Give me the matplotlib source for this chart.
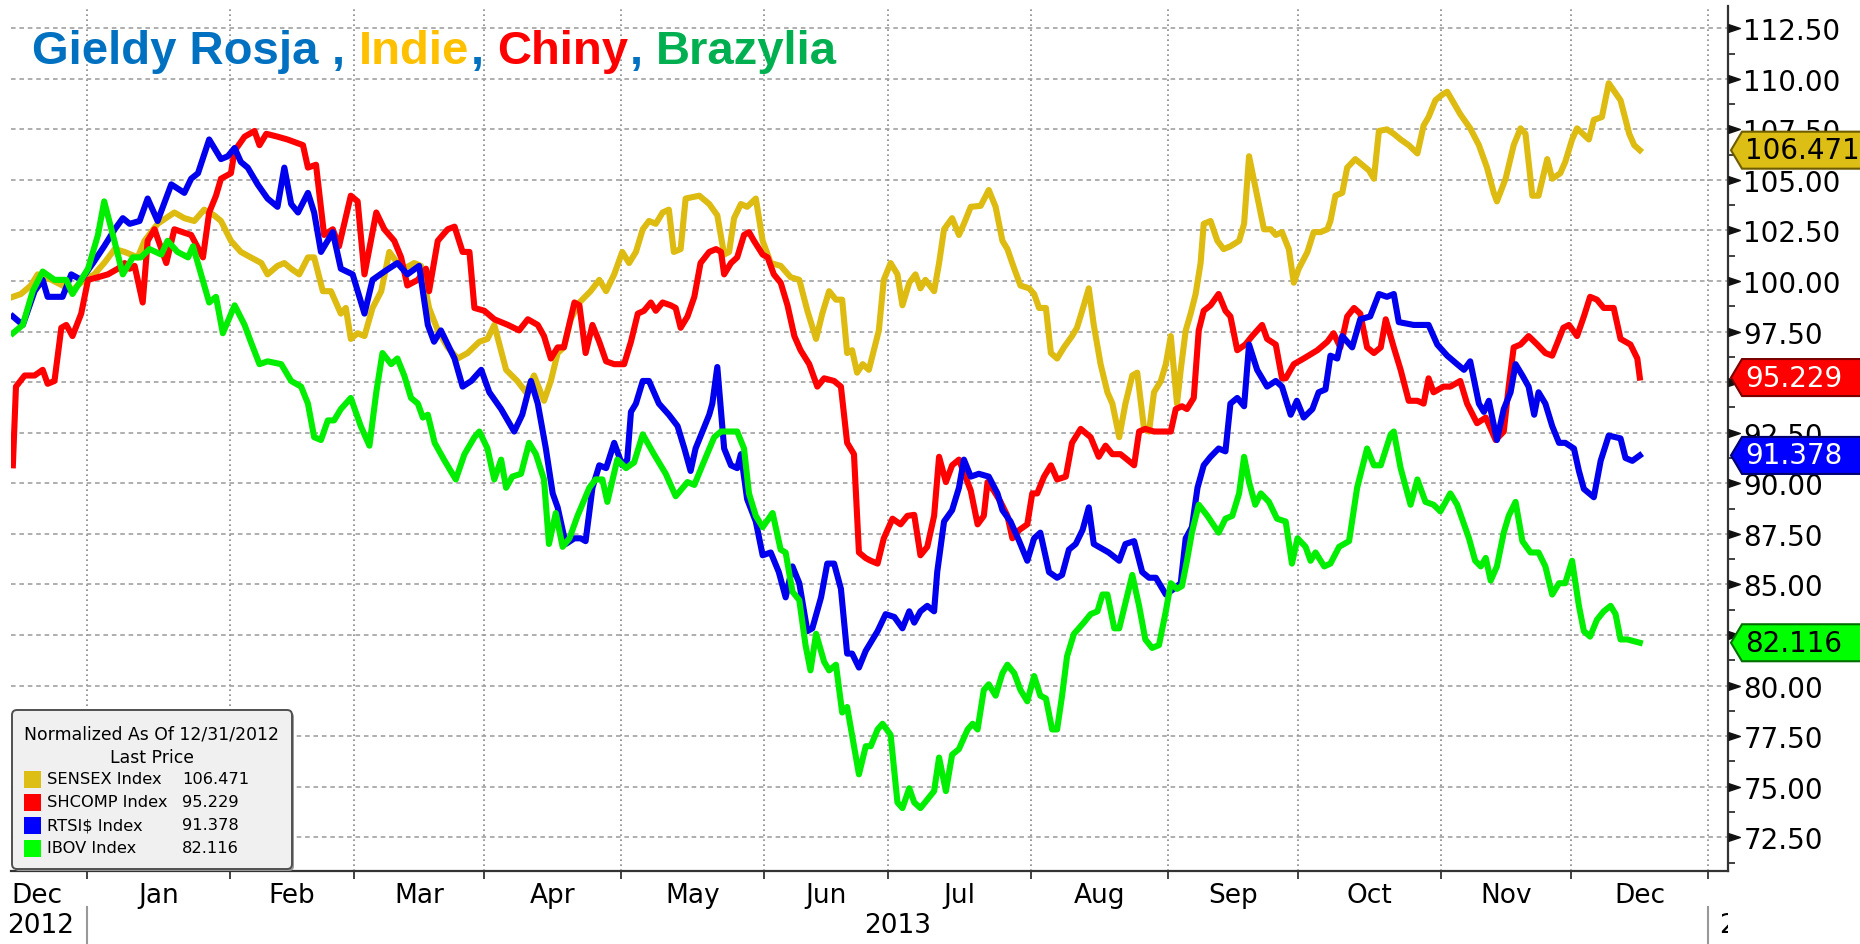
import numpy as np
import matplotlib
matplotlib.use('Agg')
import matplotlib.pyplot as plt
from matplotlib.patches import Polygon, FancyBboxPatch, Rectangle
from matplotlib.transforms import IdentityTransform, Bbox, TransformedBbox, blended_transform_factory
from matplotlib.ticker import MultipleLocator

# x = trading day counted from the first session of 2013 (weekends removed, like the terminal chart)
sensex_t = [-11.9, -10.6, -9.0, -7.9, -5.7, -3.9, -2.5, -0.4, 1.2, 2.8, 4.5, 6.1, 8.2, 9.3, 11.4, 14.1, 15.7, 17.3,
            18.9, 20.5, 21.6, 23.2, 24.8, 26.4, 28.1, 29.1, 30.7, 31.8, 32.9, 34.2, 35.6, 36.6, 38.0, 39.3, 40.9,
            41.7, 42.5, 43.6, 44.7, 46.0, 47.4, 48.7, 50.0, 51.1, 52.7, 53.8, 55.1, 56.5, 58.1, 59.7, 61.3, 63.2,
            64.5, 65.6, 67.5, 69.3, 70.7, 72.0, 73.6, 74.7, 75.8, 76.8, 77.9, 79.3, 81.1, 82.5, 83.6, 84.9, 86.2,
            87.3, 88.4, 89.5, 90.5, 91.6, 92.7, 93.7, 94.5, 95.6, 96.4, 98.6, 100.2, 101.5, 102.6, 103.4, 104.2,
            105.3, 106.3, 107.7, 108.8, 110.1, 111.7, 113.3, 114.7, 116.0, 117.4, 118.4, 119.5, 120.6, 121.6,
            122.4, 123.2, 124.0, 124.9, 125.9, 127.5, 128.3, 129.4, 130.5, 131.3, 132.4, 133.4, 134.2, 135.0,
            136.4, 137.2, 138.0, 139.3, 140.4, 141.2, 142.3, 143.9, 145.2, 146.3, 147.4, 148.2, 149.3, 150.3,
            151.7, 152.5, 153.3, 154.4, 155.2, 156.2, 157.3, 158.6, 159.4, 160.5, 161.3, 162.1, 163.2, 164.3,
            165.1, 166.2, 167.2, 168.3, 169.1, 170.2, 171.0, 171.8, 172.9, 173.7, 174.5, 175.5, 176.1, 176.9,
            177.7, 178.5, 179.3, 179.8, 180.9, 182.0, 183.0, 184.1, 185.5, 186.3, 187.1, 188.4, 189.5, 190.6,
            191.4, 192.4, 193.5, 194.3, 195.1, 196.5, 197.5, 198.6, 199.7, 200.2, 201.0, 202.1, 202.9, 204.2,
            205.3, 206.4, 207.2, 208.0, 209.3, 210.4, 211.5, 212.8, 214.2, 215.2, 216.0, 217.1, 218.2, 219.0,
            221.1, 222.7, 224.1, 225.4, 226.5, 227.0, 228.4, 229.7, 230.8, 231.6, 232.7, 233.7, 235.1, 235.9,
            237.2, 238.0, 239.1, 239.9, 241.8, 242.6, 243.9, 245.0, 246.9, 248.3, 249.1, 250.0]
sensex_v = [99.22, 99.36, 99.78, 100.33, 100.06, 99.78, 99.5, 100.06, 100.33, 100.89, 101.58, 101.44, 101.17, 101.99,
            102.83, 103.39, 103.11, 102.97, 103.53, 103.25, 102.97, 101.99, 101.44, 101.17, 100.89, 100.33, 100.75,
            100.89, 100.61, 100.33, 101.17, 101.17, 99.5, 99.5, 98.39, 98.67, 97.14, 97.42, 97.28, 98.67, 99.5,
            101.44, 100.89, 100.61, 100.89, 100.75, 98.67, 97.56, 96.72, 96.17, 96.44, 97.0, 97.14, 97.83, 95.61,
            95.06, 94.5, 95.33, 94.08, 95.06, 96.44, 96.72, 98.11, 98.94, 99.5, 100.06, 99.5, 100.33, 101.44,
            100.89, 101.44, 102.56, 102.97, 102.83, 103.39, 103.53, 101.44, 101.58, 104.08, 104.22, 103.81, 103.25,
            101.31, 101.44, 103.11, 103.81, 103.67, 104.08, 101.99, 100.89, 100.75, 100.19, 100.06, 98.53, 97.14,
            98.39, 99.5, 99.08, 99.08, 96.44, 96.58, 95.47, 95.89, 95.61, 97.55, 100.06, 100.89, 100.33, 98.8,
            99.92, 100.33, 99.64, 100.06, 99.5, 100.89, 102.56, 103.11, 102.28, 102.83, 103.67, 103.72, 104.5,
            103.67, 101.99, 101.58, 100.61, 99.78, 99.64, 99.36, 98.67, 98.67, 96.44, 96.17, 96.72, 97.28, 97.69,
            98.8, 99.64, 97.83, 95.89, 94.5, 93.94, 92.28, 93.94, 95.33, 95.47, 92.69, 92.56, 94.5, 95.06, 95.89,
            97.28, 93.94, 95.61, 97.55, 98.39, 99.36, 100.89, 102.83, 102.97, 101.99, 101.58, 101.72, 101.99,
            102.83, 106.17, 104.22, 102.56, 102.56, 102.28, 102.42, 101.58, 99.92, 100.61, 101.44, 102.42, 102.42,
            102.56, 102.97, 104.22, 104.36, 105.61, 106.03, 105.75, 105.47, 105.06, 107.42, 107.5, 107.28, 107.0,
            106.72, 106.31, 107.69, 108.11, 108.94, 109.22, 109.36, 108.25, 107.55, 106.72, 105.61, 104.36, 103.94,
            105.06, 106.72, 107.55, 107.28, 104.22, 104.22, 106.03, 105.06, 105.33, 105.89, 107.0, 107.55, 107.0,
            107.97, 108.11, 109.78, 108.94, 107.28, 106.72, 106.471]

shcomp_t = [-11.9, -11.4, -10.0, -8.4, -7.1, -6.3, -5.2, -4.1, -3.3, -2.3, -0.9, 0.2, 1.8, 3.4, 5.0, 6.1, 6.9, 7.7,
            9.0, 9.8, 10.9, 12.8, 14.1, 15.4, 16.8, 18.7, 19.7, 20.8, 21.6, 23.2, 23.8, 25.4, 27.0, 27.8, 28.9,
            30.7, 32.3, 34.8, 35.6, 36.9, 38.2, 39.6, 40.6, 42.5, 43.6, 44.7, 46.6, 47.9, 49.5, 50.6, 51.6, 53.3,
            54.6, 55.1, 56.5, 58.1, 59.2, 60.5, 61.6, 62.4, 64.0, 65.6, 67.8, 69.6, 71.0, 72.6, 73.6, 74.7, 75.8,
            76.8, 78.5, 79.3, 80.3, 81.4, 82.5, 83.6, 84.9, 86.5, 87.6, 88.7, 89.7, 90.8, 91.6, 92.7, 94.0, 94.8,
            95.6, 96.7, 97.8, 98.8, 100.2, 101.3, 102.1, 102.6, 103.7, 104.7, 105.8, 106.6, 107.4, 108.8, 109.6,
            110.6, 111.7, 112.8, 113.9, 114.9, 116.3, 117.6, 118.7, 120.3, 121.4, 122.4, 123.5, 124.3, 125.4,
            126.2, 127.3, 128.3, 129.7, 131.0, 132.1, 133.2, 134.2, 135.3, 136.4, 137.2, 138.3, 139.3, 140.4,
            142.3, 143.4, 144.4, 145.0, 146.0, 147.1, 148.2, 149.0, 150.1, 151.4, 152.2, 153.0, 154.1, 155.2,
            156.2, 157.6, 158.6, 160.0, 161.6, 162.9, 164.0, 165.1, 166.4, 167.5, 168.6, 169.4, 170.4, 171.8,
            172.9, 174.5, 175.3, 176.3, 177.1, 178.2, 179.0, 179.8, 180.9, 182.2, 183.3, 184.1, 185.2, 186.5,
            187.6, 189.2, 190.0, 191.4, 192.4, 193.0, 194.3, 195.9, 198.1, 199.7, 200.7, 201.8, 202.9, 204.0,
            205.0, 206.1, 207.2, 208.3, 209.1, 210.4, 211.5, 212.8, 214.2, 215.2, 216.0, 216.8, 218.4, 219.5,
            221.1, 222.2, 223.8, 225.2, 226.8, 228.1, 228.9, 229.7, 230.8, 232.1, 233.5, 234.8, 235.9, 237.7,
            238.6, 239.9, 241.0, 242.0, 243.1, 244.2, 245.8, 246.9, 248.5, 249.6, 250.0]
shcomp_v = [90.89, 94.78, 95.33, 95.33, 95.61, 94.92, 95.06, 97.69, 97.83, 97.28, 98.39, 100.06, 100.19, 100.33,
            100.61, 100.89, 100.61, 100.75, 98.94, 101.99, 102.56, 100.89, 102.56, 102.42, 102.28, 101.17, 103.39,
            104.22, 105.06, 105.33, 106.44, 107.14, 107.42, 106.72, 107.28, 107.14, 107.0, 106.72, 105.61, 105.75,
            102.28, 102.56, 101.72, 104.22, 103.94, 100.33, 103.39, 102.56, 101.99, 101.17, 99.78, 100.06, 100.61,
            99.5, 101.99, 102.56, 102.69, 101.44, 101.44, 98.67, 98.53, 98.11, 97.83, 97.56, 98.11, 97.83, 97.28,
            96.17, 96.72, 96.72, 98.94, 98.8, 96.44, 97.83, 97.0, 96.03, 95.89, 95.89, 97.0, 98.39, 98.53, 98.94,
            98.53, 98.94, 98.8, 98.67, 97.69, 98.25, 99.22, 100.89, 101.44, 101.58, 101.44, 100.33, 100.89, 101.17,
            102.28, 102.42, 101.99, 101.31, 101.17, 100.33, 99.92, 98.8, 97.28, 96.58, 95.89, 94.78, 95.19, 95.06,
            94.78, 92.0, 91.44, 86.58, 86.3, 86.17, 86.03, 87.28, 88.25, 87.97, 88.39, 88.44, 86.44, 86.86, 88.39,
            91.31, 90.06, 90.89, 91.17, 89.64, 87.97, 88.39, 90.06, 89.64, 89.08, 88.39, 87.28, 87.69, 87.97, 89.5,
            89.5, 90.33, 90.89, 90.19, 90.33, 92.0, 92.69, 92.28, 91.31, 91.86, 91.44, 91.44, 91.17, 90.89, 92.56,
            92.69, 92.56, 92.56, 92.56, 93.67, 93.81, 93.67, 94.22, 97.56, 98.53, 98.8, 99.36, 98.53, 98.25, 96.58,
            96.86, 97.28, 97.83, 97.14, 96.86, 95.19, 95.19, 95.89, 96.17, 96.58, 97.0, 97.42, 96.72, 98.25, 98.67,
            98.39, 96.72, 96.44, 96.72, 98.11, 96.72, 95.61, 94.08, 94.08, 93.94, 95.19, 94.5, 94.78, 94.78, 95.06,
            93.94, 92.97, 93.25, 92.14, 92.56, 94.78, 96.72, 96.86, 97.28, 96.86, 96.44, 96.31, 97.69, 97.83, 97.28,
            98.25, 99.22, 99.08, 98.67, 98.67, 97.14, 96.86, 96.17, 95.229]

rtsi_t = [-11.9, -10.3, -8.4, -7.1, -6.3, -3.9, -2.5, -0.9, 1.0, 2.8, 4.5, 5.8, 6.9, 8.5, 9.8, 11.4, 13.6, 15.7, 16.8,
          17.9, 19.7, 21.6, 22.7, 23.8, 24.8, 25.9, 27.5, 29.1, 30.7, 31.8, 32.9, 34.0, 35.6, 36.6, 37.7, 39.6, 40.9,
          42.8, 44.7, 46.0, 47.9, 50.0, 51.6, 53.5, 54.9, 55.9, 57.0, 59.2, 60.5, 61.9, 63.5, 64.8, 66.7, 68.8, 70.1,
          71.5, 72.6, 73.9, 75.0, 75.8, 77.1, 78.5, 79.5, 80.3, 81.4, 82.5, 83.6, 84.9, 86.2, 87.0, 87.6, 88.4, 89.5,
          90.5, 92.1, 93.7, 95.1, 96.2, 97.2, 98.0, 99.1, 100.2, 100.7, 101.5, 102.6, 103.7, 104.7, 105.3, 106.3,
          107.7, 108.8, 110.1, 111.4, 112.5, 113.6, 114.7, 116.0, 116.8, 118.2, 119.2, 120.3, 121.4, 122.4, 123.2,
          124.3, 125.4, 127.3, 128.6, 130.0, 131.3, 132.4, 133.2, 134.2, 135.3, 136.4, 136.9, 138.0, 139.3, 140.4,
          141.2, 142.3, 143.6, 145.2, 146.6, 147.4, 148.7, 150.1, 151.4, 152.5, 153.5, 154.9, 156.2, 157.0, 158.1,
          159.2, 160.3, 161.3, 162.1, 163.7, 164.5, 166.2, 167.2, 168.6, 169.9, 171.0, 172.1, 172.9, 173.7, 175.0,
          176.1, 176.9, 177.9, 178.8, 179.8, 180.9, 182.2, 183.3, 184.1, 185.2, 186.3, 187.1, 188.4, 190.0, 191.4,
          192.4, 193.8, 194.8, 195.9, 197.3, 198.3, 199.4, 200.2, 201.3, 202.1, 203.7, 205.0, 206.6, 208.0, 209.3,
          210.4, 211.2, 213.6, 216.0, 217.4, 219.0, 220.6, 221.7, 222.7, 224.1, 224.9, 225.7, 227.0, 228.1, 229.2,
          230.0, 231.1, 232.1, 233.0, 233.7, 234.8, 235.9, 237.0, 238.0, 239.4, 240.2, 241.0, 242.6, 243.7, 245.0,
          246.9, 247.7, 248.8, 250.0]
rtsi_v = [98.25, 97.83, 99.5, 100.06, 99.22, 99.22, 100.33, 100.06, 100.89, 101.72, 102.56, 103.11, 102.83, 102.97,
          104.08, 102.97, 104.78, 104.36, 105.06, 105.33, 107.0, 106.03, 106.17, 106.58, 105.89, 105.61, 104.78, 104.08,
          103.67, 105.61, 103.81, 103.39, 104.36, 103.39, 101.44, 102.42, 100.61, 100.33, 98.39, 100.06, 100.47, 100.89,
          100.33, 100.75, 97.83, 97.0, 97.56, 96.17, 94.78, 95.06, 95.61, 94.5, 93.67, 92.56, 93.39, 95.06, 93.94,
          91.72, 89.5, 88.81, 87.0, 87.28, 87.28, 87.14, 89.78, 90.89, 90.75, 92.0, 90.89, 91.17, 93.53, 93.94, 95.06,
          95.06, 93.94, 93.39, 92.83, 91.72, 90.61, 91.72, 92.56, 93.39, 93.94, 95.75, 91.72, 90.89, 90.75, 91.44,
          89.22, 88.11, 86.44, 86.58, 85.61, 84.36, 85.89, 85.06, 82.69, 82.83, 84.36, 86.03, 86.03, 84.78, 81.58,
          81.58, 80.89, 81.72, 82.69, 83.53, 83.39, 82.83, 83.67, 83.11, 83.67, 83.94, 83.67, 85.61, 88.11, 88.67,
          89.78, 91.17, 90.33, 90.47, 90.33, 89.5, 88.67, 88.11, 87.14, 86.17, 87.28, 87.56, 85.61, 85.33, 85.47,
          86.72, 87.0, 87.69, 88.81, 87.0, 86.72, 86.58, 86.17, 87.0, 87.14, 85.61, 85.33, 85.33, 84.92, 84.5, 84.78,
          85.06, 87.28, 87.83, 89.78, 90.89, 91.31, 91.72, 91.58, 93.94, 94.22, 93.81, 96.86, 95.61, 94.78, 95.06,
          94.78, 93.39, 94.08, 93.25, 93.67, 94.5, 94.64, 96.31, 96.17, 97.28, 96.72, 98.11, 98.25, 99.36, 99.22,
          99.36, 97.97, 97.83, 97.83, 96.86, 96.31, 95.89, 95.61, 96.03, 93.94, 93.53, 94.08, 92.14, 93.67, 94.5,
          95.89, 95.33, 94.78, 93.39, 94.5, 93.94, 92.83, 92.0, 92.0, 91.72, 90.61, 89.72, 89.31, 91.11, 92.36,
          92.22, 91.25, 91.11, 91.378]

ibov_t = [-11.9, -10.3, -8.7, -7.1, -5.2, -3.3, -2.3, 0.2, 1.8, 2.8, 4.2, 5.8, 7.4, 8.7, 10.1, 12.0, 13.0, 14.6, 16.3,
          17.1, 18.4, 19.7, 20.8, 21.9, 23.8, 25.4, 26.4, 27.8, 29.1, 31.3, 32.9, 34.5, 35.6, 36.6, 37.7, 38.8, 39.8,
          40.9, 42.5, 44.1, 45.5, 46.6, 47.6, 49.0, 50.0, 51.1, 52.2, 53.3, 54.1, 54.9, 56.0, 57.5, 59.4, 60.8, 62.4,
          63.2, 64.5, 65.6, 66.7, 67.5, 68.5, 69.9, 71.2, 72.3, 73.6, 74.4, 75.5, 76.6, 77.7, 79.0, 80.9, 81.9, 83.0,
          83.8, 85.4, 86.8, 88.1, 89.5, 91.3, 93.2, 94.8, 96.7, 97.8, 99.1, 101.0, 102.1, 104.7, 105.8, 106.6, 107.7,
          108.8, 110.4, 111.7, 112.5, 113.6, 114.7, 115.7, 116.5, 117.4, 118.7, 119.5, 120.6, 121.6, 122.4, 124.3,
          125.4, 126.2, 127.3, 128.1, 129.4, 130.5, 131.3, 132.4, 133.2, 134.2, 135.3, 136.4, 137.2, 138.3, 139.3,
          140.4, 141.8, 142.6, 143.4, 144.4, 145.2, 146.3, 147.4, 148.2, 149.3, 150.3, 151.4, 152.5, 153.5, 154.4,
          155.4, 156.2, 157.0, 157.8, 158.9, 160.5, 161.6, 162.7, 163.5, 164.3, 165.4, 166.2, 167.2, 168.3, 169.4,
          170.4, 171.5, 172.6, 173.7, 174.5, 175.5, 176.3, 177.1, 177.9, 179.0, 180.4, 182.2, 183.3, 184.4, 185.5,
          186.3, 187.1, 188.1, 189.0, 190.3, 191.6, 193.0, 194.0, 194.9, 196.2, 197.0, 197.8, 199.2, 200.2, 201.6,
          203.2, 204.5, 206.1, 207.2, 208.3, 209.9, 210.4, 211.5, 213.1, 214.2, 215.5, 216.8, 217.9, 219.5, 220.6,
          222.5, 223.5, 224.4, 225.2, 226.0, 227.0, 228.1, 228.9, 230.0, 231.1, 232.4, 233.7, 234.8, 235.9, 237.0,
          238.0, 239.1, 240.2, 241.0, 242.0, 243.1, 244.2, 245.3, 246.1, 246.9, 248.0, 250.0]
ibov_v = [97.42, 97.83, 99.5, 100.47, 100.06, 100.06, 99.36, 100.61, 102.28, 103.94, 102.28, 100.33, 101.17, 101.17,
          101.58, 101.31, 101.99, 101.44, 101.17, 101.72, 100.33, 98.94, 99.22, 97.42, 98.8, 97.83, 97.0, 95.89, 96.03,
          95.89, 95.06, 94.78, 93.94, 92.28, 92.14, 93.11, 93.11, 93.67, 94.22, 92.83, 91.86, 94.5, 96.44, 95.89,
          96.17, 95.33, 94.22, 93.94, 93.25, 93.39, 92.0, 91.17, 90.19, 91.44, 92.28, 92.56, 91.72, 90.19, 91.17,
          89.78, 90.33, 90.47, 92.0, 91.44, 90.19, 87.0, 88.53, 86.86, 87.28, 88.39, 89.78, 90.19, 90.19, 89.08,
          91.17, 90.75, 91.03, 92.42, 91.44, 90.47, 89.36, 90.06, 89.92, 90.89, 92.28, 92.56, 92.56, 91.72, 89.5,
          88.39, 87.83, 88.53, 86.72, 86.58, 84.64, 84.22, 82.0, 80.75, 82.56, 81.17, 80.75, 81.03, 78.67, 78.94,
          75.61, 77.0, 77.0, 77.83, 78.11, 77.56, 74.22, 73.94, 74.92, 74.22, 73.94, 74.36, 74.78, 76.44, 74.78,
          76.58, 76.86, 77.83, 78.11, 77.83, 79.78, 80.06, 79.5, 80.61, 81.03, 80.61, 79.78, 79.22, 80.47, 79.5,
          79.36, 77.83, 77.83, 79.5, 81.44, 82.55, 83.11, 83.53, 83.67, 84.5, 84.5, 82.83, 82.83, 84.08, 85.47,
          83.94, 82.28, 81.86, 82.0, 83.67, 85.06, 84.78, 84.92, 86.17, 87.56, 88.94, 88.39, 87.56, 88.25, 88.39,
          89.5, 91.31, 90.06, 88.94, 89.5, 89.08, 88.25, 88.11, 86.03, 87.28, 86.86, 86.17, 86.58, 85.89, 86.03,
          86.86, 87.14, 89.78, 91.72, 90.89, 90.89, 92.42, 92.56, 90.75, 88.94, 90.19, 89.08, 88.94, 88.61, 89.5,
          88.94, 87.28, 86.17, 85.89, 86.31, 85.19, 85.89, 87.56, 88.39, 89.08, 87.14, 86.58, 86.58, 85.89, 84.5,
          85.06, 85.06, 86.17, 83.94, 82.69, 82.42, 83.25, 83.67, 83.94, 83.53, 82.28, 82.28, 82.116]

series_names = ['SENSEX Index', 'SHCOMP Index', 'RTSI$ Index', 'IBOV Index']
line_colors = ['#DDBB11', '#FF0000', '#0000EE', '#00EE00']
tag_faces = ['#DCBE14', '#FF0000', '#0000FF', '#00FF00']
tag_edges = ['#6E5C00', '#7A0000', '#00006E', '#006E00']
tag_text = ['black', 'white', 'white', 'black']

month_names = ['Dec', 'Jan', 'Feb', 'Mar', 'Apr', 'May', 'Jun', 'Jul', 'Aug', 'Sep', 'Oct', 'Nov', 'Dec']
month_starts = ['2013-%02d-01' % m for m in range(1, 13)] + ['2014-01-01']

title_parts = [('Gieldy Rosja', '#0070C0', True), (',', '#0070C0', True), ('Indie', '#FFC000', False),
               (',', '#0070C0', True), ('Chiny', '#FF0000', False), (',', '#0070C0', True),
               ('Brazylia', '#00B050', False)]

W, H = 1860, 945
fig = plt.figure(figsize=(W / 100, H / 100), dpi=100)
ax = fig.add_axes([11 / W, 73 / H, 1717 / W, 865 / H])

xs = [sensex_t, shcomp_t, rtsi_t, ibov_t]
ys = [sensex_v, shcomp_v, rtsi_v, ibov_v]
for t, v, c in zip(xs, ys, line_colors):
    ax.plot(t, v, color=c, lw=4.4, solid_joinstyle='round', zorder=3)

ax.set_xlim(-12.2, 264.2)
ax.set_ylim(70.83, 113.6)

# month boundaries in trading days
bounds = np.busday_count('2013-01-01', month_starts)
mids = [-8] + [(a + b) / 2 for a, b in zip(bounds[:-1], bounds[1:])]
ax.set_xticks(bounds)
ax.set_xticklabels([])
ax.set_xticks(mids, minor=True)
ax.set_xticklabels(month_names, minor=True)
ax.tick_params(axis='x', which='major', length=6, width=1.3, color='#333333', direction='out')
ax.tick_params(axis='x', which='minor', length=0, pad=8, labelsize=19)

ax.yaxis.tick_right()
yt = np.arange(72.5, 112.51, 2.5)
ax.set_yticks(yt)
ax.set_yticklabels(['%.2f' % y for y in yt])
ax.yaxis.set_minor_locator(MultipleLocator(1.25))
ax.tick_params(axis='y', which='major', length=0, pad=11, labelsize=20)
ax.tick_params(axis='y', which='minor', length=5, width=1.3, color='#333333', direction='out')
ax.plot(np.ones(len(yt)), yt, transform=ax.get_yaxis_transform(), ls='none',
        marker=[(0, -1), (3, 0), (0, 1)], ms=17, color='#111111', clip_on=False, zorder=4)

ax.grid(axis='x', which='major', ls=(0, (1, 2)), color='#888888', lw=1.2)
ax.grid(axis='y', which='major', ls=(0, (3, 2.5)), color='#999999', lw=1.1)
ax.set_axisbelow(True)
for s in ['top', 'left']:
    ax.spines[s].set_visible(False)
for s in ['bottom', 'right']:
    ax.spines[s].set_color('#333333')
    ax.spines[s].set_linewidth(1.6)

# years under the months
trans = blended_transform_factory(ax.transData, ax.transAxes)
ax.text(-7.5, -0.0624, '2012', transform=trans, ha='center', va='center', fontsize=19, clip_on=False)
ax.text((bounds[0] + bounds[-1]) / 2, -0.0624, '2013', transform=trans, ha='center', va='center', fontsize=19,
        clip_on=False)
ax_right = ax.transAxes.transform((1, 0))[0]
t14 = ax.text(bounds[-1] + 1.8, -0.0624, '2014', transform=trans, ha='left', va='center', fontsize=19)
t14.set_clip_on(True)
t14.set_clip_box(TransformedBbox(Bbox.from_extents(0, 0, ax_right, H), IdentityTransform()))
for b in [bounds[0], bounds[-1]]:
    ax.plot([b, b], [-0.042, -0.09], transform=trans, color='#999999', lw=1.5, clip_on=False)

# last value tags on the right axis
for v, fc, ec, tc in zip(ys, tag_faces, tag_edges, tag_text):
    yc = ax.transData.transform((0, v[-1]))[1]
    verts = [(ax_right + 3, yc), (ax_right + 14, yc + 18.5), (W + 5, yc + 18.5), (W + 5, yc - 18.5),
             (ax_right + 14, yc - 18.5)]
    fig.add_artist(Polygon(verts, closed=True, transform=IdentityTransform(), facecolor=fc, edgecolor=ec,
                           lw=1.5, zorder=5))
    fig.text(ax_right + 17, yc, '%.3f' % v[-1], transform=IdentityTransform(), ha='left', va='center',
             fontsize=20, color=tc, zorder=6)

# legend box
fig.add_artist(FancyBboxPatch((14, H - 872), 280, 159, boxstyle='round,pad=0,rounding_size=5',
                              transform=IdentityTransform(), facecolor='#9A9A9A', edgecolor='none', zorder=7))
fig.add_artist(FancyBboxPatch((12, H - 870), 280, 159, boxstyle='round,pad=0,rounding_size=5',
                              transform=IdentityTransform(), facecolor='#F0F0F0', edgecolor='#505050', lw=1.4,
                              zorder=8))
fig.text(152, H - 735, 'Normalized As Of 12/31/2012', transform=IdentityTransform(), ha='center', va='center',
         fontsize=12.4, zorder=9)
fig.text(152, H - 758, 'Last Price', transform=IdentityTransform(), ha='center', va='center', fontsize=12.4,
         zorder=9)
for i, (name, v, fc) in enumerate(zip(series_names, ys, tag_faces)):
    yc = H - (780 + 23 * i)
    fig.add_artist(Rectangle((24, yc - 8.5), 17, 17, transform=IdentityTransform(), facecolor=fc,
                             edgecolor='none', zorder=9))
    fig.text(47, yc, name, transform=IdentityTransform(), ha='left', va='center', fontsize=11.7, zorder=9)
    fig.text(182, yc, '%.3f' % v[-1], transform=IdentityTransform(), ha='left', va='center', fontsize=11.7,
             zorder=9)

# multicoloured title
renderer = fig.canvas.get_renderer()
x = 31.6
for part, col, gap in title_parts:
    tx = fig.text(x, H - 64, part, transform=IdentityTransform(), color=col, fontsize=34, fontweight='bold',
                  family='Liberation Sans', ha='left', va='baseline', zorder=9)
    x = tx.get_window_extent(renderer).x1 + (14 if gap else 1)

fig.savefig('out.png', dpi=100)
